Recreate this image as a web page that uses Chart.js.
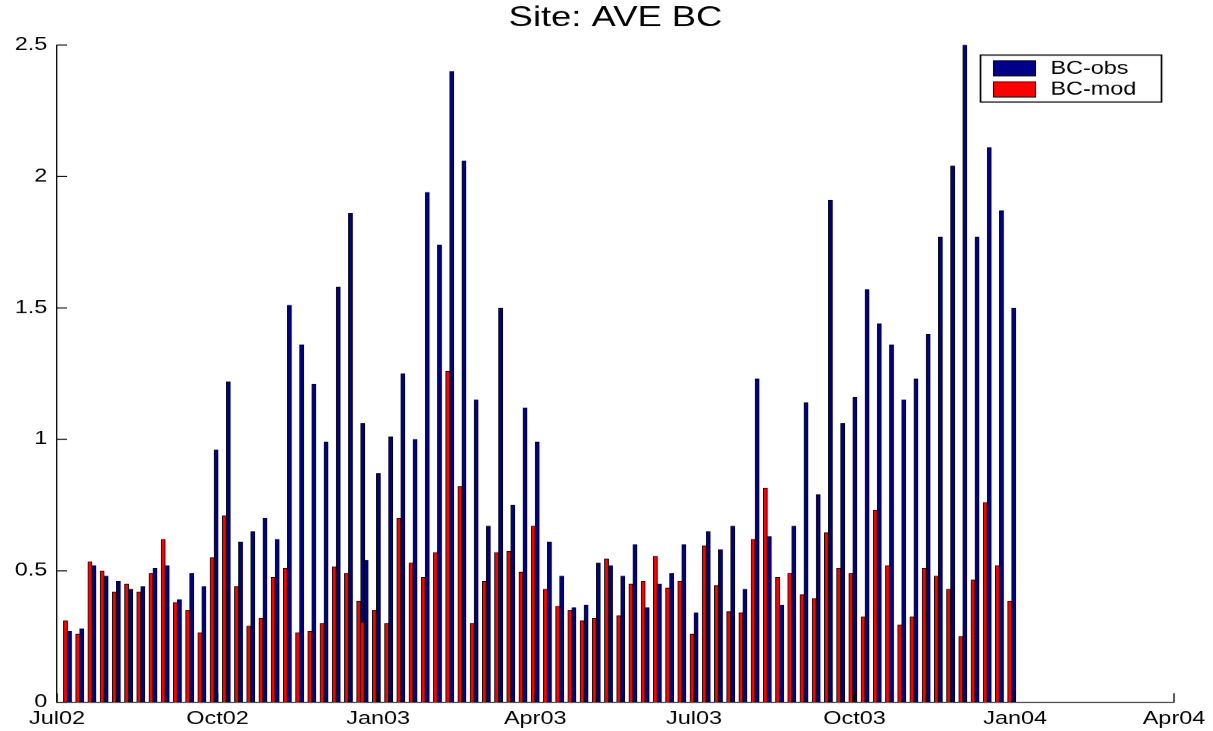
<!DOCTYPE html>
<html>
<head>
<meta charset="utf-8">
<title>Site: AVE BC</title>
<script src="https://cdn.jsdelivr.net/npm/chart.js@4.4.1/dist/chart.umd.min.js"></script>
<style>
  html, body { margin: 0; padding: 0; background: #fff; overflow: hidden; }
  /* the original figure is stretched sideways, so draw narrow and scale out */
  #wrap { position: absolute; left: 0; top: 0; width: 933px; height: 731px; transform: scaleX(1.30011); transform-origin: 0 0; }
</style>
</head>
<body>
<div id="wrap"><canvas id="chart" width="933" height="731"></canvas></div>
<script>
const SX = 1213 / 933;

// weekly sample dates (one extra shift at Christmas 2002)
const sampleDates = [
  "2002-07-07", "2002-07-14", "2002-07-21", "2002-07-28", "2002-08-04", "2002-08-11", "2002-08-18", "2002-08-25",
  "2002-09-01", "2002-09-08", "2002-09-15", "2002-09-22", "2002-09-29", "2002-10-06", "2002-10-13", "2002-10-20",
  "2002-10-27", "2002-11-03", "2002-11-10", "2002-11-17", "2002-11-24", "2002-12-01", "2002-12-08", "2002-12-15",
  "2002-12-22", "2002-12-24", "2002-12-31", "2003-01-07", "2003-01-14", "2003-01-21", "2003-01-28", "2003-02-04",
  "2003-02-11", "2003-02-18", "2003-02-25", "2003-03-04", "2003-03-11", "2003-03-18", "2003-03-25", "2003-04-01",
  "2003-04-08", "2003-04-15", "2003-04-22", "2003-04-29", "2003-05-06", "2003-05-13", "2003-05-20", "2003-05-27",
  "2003-06-03", "2003-06-10", "2003-06-17", "2003-06-24", "2003-07-01", "2003-07-08", "2003-07-15", "2003-07-22",
  "2003-07-29", "2003-08-05", "2003-08-12", "2003-08-19", "2003-08-26", "2003-09-02", "2003-09-09", "2003-09-16",
  "2003-09-23", "2003-09-30", "2003-10-07", "2003-10-14", "2003-10-21", "2003-10-28", "2003-11-04", "2003-11-11",
  "2003-11-18", "2003-11-25", "2003-12-02", "2003-12-09", "2003-12-16", "2003-12-23", "2003-12-30"
];

const bcObs = [
  0.27, 0.28, 0.52, 0.48, 0.46, 0.43, 0.44, 0.51, 0.52, 0.39, 0.49, 0.44, 0.96, 1.22, 0.61, 0.65,
  0.70, 0.62, 1.51, 1.36, 1.21, 0.99, 1.58, 1.86, 1.06, 0.54, 0.87, 1.01, 1.25, 1.00, 1.94, 1.74,
  2.40, 2.06, 1.15, 0.67, 1.50, 0.75, 1.12, 0.99, 0.61, 0.48, 0.36, 0.37, 0.53, 0.52, 0.48, 0.60,
  0.36, 0.45, 0.49, 0.60, 0.34, 0.65, 0.58, 0.67, 0.43, 1.23, 0.63, 0.37, 0.67, 1.14, 0.79, 1.91,
  1.06, 1.16, 1.57, 1.44, 1.36, 1.15, 1.23, 1.40, 1.77, 2.04, 2.60, 1.77, 2.11, 1.87, 1.50
];

const bcMod = [
  0.31, 0.26, 0.535, 0.50, 0.42, 0.45, 0.42, 0.49, 0.62, 0.38, 0.35, 0.265, 0.55, 0.71, 0.44, 0.29,
  0.32, 0.475, 0.51, 0.265, 0.27, 0.30, 0.515, 0.49, 0.385, 0.305, 0.35, 0.30, 0.70, 0.53, 0.475, 0.57,
  1.26, 0.82, 0.30, 0.46, 0.57, 0.575, 0.495, 0.67, 0.43, 0.365, 0.35, 0.31, 0.32, 0.545, 0.33, 0.45,
  0.46, 0.555, 0.435, 0.46, 0.26, 0.595, 0.445, 0.345, 0.34, 0.62, 0.815, 0.475, 0.49, 0.41, 0.395, 0.645,
  0.51, 0.49, 0.325, 0.73, 0.52, 0.295, 0.325, 0.51, 0.48, 0.43, 0.25, 0.465, 0.76, 0.52, 0.385
];

const tickDates = ["2002-07-01", "2002-10-01", "2003-01-01", "2003-04-01", "2003-07-01", "2003-10-01", "2004-01-01", "2004-04-01"];
const tickLabels = ["Jul02", "Oct02", "Jan03", "Apr03", "Jul03", "Oct03", "Jan04", "Apr04"];

const yTicks = [0, 0.5, 1, 1.5, 2, 2.5];
const yTickLabels = ["0", "0.5", "1", "1.5", "2", "2.5"];

// days since the first tick
function dayOf(s) {
  const [y, m, d] = s.split("-").map(Number);
  const [y0, m0, d0] = tickDates[0].split("-").map(Number);
  return (Date.UTC(y, m - 1, d) - Date.UTC(y0, m0 - 1, d0)) / 86400000;
}

const tickDays = tickDates.map(dayOf);
const obsPoints = sampleDates.map((s, i) => ({ x: dayOf(s), y: bcObs[i] }));
const modPoints = sampleDates.map((s, i) => ({ x: dayOf(s), y: bcMod[i] }));

Chart.defaults.font.family = '"Liberation Sans", Arial, Helvetica, sans-serif';
Chart.defaults.color = "#000";

// MATLAB style ticks pointing into the axes
const innerTicks = {
  id: "innerTicks",
  afterDraw(chart) {
    const { ctx, chartArea, scales } = chart;
    ctx.save();
    ctx.strokeStyle = "#000";
    ctx.lineWidth = 1;
    ctx.beginPath();
    scales.y.ticks.forEach(t => {
      const py = scales.y.getPixelForValue(t.value);
      ctx.moveTo(chartArea.left, py);
      ctx.lineTo(chartArea.left + 10 / SX, py);
    });
    scales.x.ticks.forEach(t => {
      const px = scales.x.getPixelForValue(t.value);
      ctx.moveTo(px, chartArea.bottom);
      ctx.lineTo(px, chartArea.bottom - 9);
    });
    ctx.stroke();
    ctx.restore();
  }
};

// boxed legend in the upper right corner
const boxLegend = {
  id: "boxLegend",
  afterDraw(chart) {
    const { ctx, chartArea } = chart;
    const right = chartArea.right - 12.5 / SX;
    const left = right - 181 / SX;
    const top = chartArea.top + 10;
    const h = 47;
    ctx.save();
    ctx.fillStyle = "#fff";
    ctx.fillRect(left, top, right - left, h);
    ctx.strokeStyle = "#000";
    ctx.lineWidth = 1.3;
    ctx.strokeRect(left, top, right - left, h);
    chart.data.datasets.forEach((ds, i) => {
      const sy = top + 5.7 + i * 21;
      ctx.fillStyle = ds.backgroundColor;
      ctx.fillRect(left + 13 / SX, sy, 42 / SX, 15.3);
      ctx.lineWidth = 0.8;
      ctx.strokeRect(left + 13 / SX, sy, 42 / SX, 15.3);
      ctx.fillStyle = "#000";
      ctx.font = '18px "Liberation Sans", Arial, sans-serif';
      ctx.textBaseline = "middle";
      ctx.textAlign = "left";
      ctx.fillText(ds.label, left + 70 / SX, sy + 8);
    });
    ctx.restore();
  }
};

const ctx = document.getElementById("chart").getContext("2d");

new Chart(ctx, {
  type: "bar",
  data: {
    datasets: [
      {
        label: "BC-obs",
        data: obsPoints,
        backgroundColor: "#000088",
        borderColor: "#000",
        borderWidth: 0.8,
        barThickness: 4 / SX,
        order: 2,
        clip: 0
      },
      {
        label: "BC-mod",
        data: modPoints,
        backgroundColor: "#ff0000",
        borderColor: "#000",
        borderWidth: 0.8,
        barThickness: 4 / SX,
        order: 1,
        clip: 0
      }
    ]
  },
  options: {
    responsive: false,
    animation: false,
    devicePixelRatio: SX,
    layout: { padding: { left: 0, right: 28, top: 0, bottom: 0 } },
    plugins: {
      legend: { display: false },
      tooltip: { enabled: false },
      title: {
        display: true,
        fullSize: false,
        text: "Site: AVE BC",
        color: "#000",
        font: { size: 28, weight: "normal" },
        padding: { top: 1.7, bottom: 9.7 }
      }
    },
    scales: {
      x: {
        type: "linear",
        min: tickDays[0],
        max: tickDays[tickDays.length - 1],
        offset: false,
        grid: { display: false, drawTicks: false },
        border: { display: true, color: "#000", width: 1 },
        afterBuildTicks: (axis) => {
          axis.ticks = tickDays.map(v => ({ value: v }));
        },
        ticks: {
          autoSkip: false,
          maxRotation: 0,
          padding: 6,
          font: { size: 18 },
          callback: (value, index) => tickLabels[index]
        },
        afterFit: (axis) => { axis.height = 29; }
      },
      y: {
        min: 0,
        max: 2.5,
        grid: { display: false, drawTicks: false },
        border: { display: true, color: "#000", width: 1 },
        afterBuildTicks: (axis) => {
          axis.ticks = yTicks.map(v => ({ value: v }));
        },
        ticks: {
          padding: 7.5,
          font: { size: 18 },
          callback: (value, index) => yTickLabels[index]
        },
        afterFit: (axis) => { axis.width = 57 / SX; }
      }
    }
  },
  plugins: [innerTicks, boxLegend]
});
</script>
</body>
</html>
